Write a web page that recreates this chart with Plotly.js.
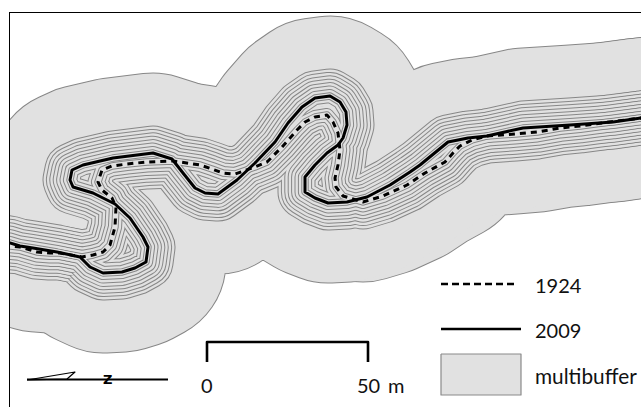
<!DOCTYPE html>
<html><head><meta charset="utf-8">
<script src="https://cdn.plot.ly/plotly-3.0.1.min.js"></script>
<style>html,body{margin:0;padding:0;background:#fff}#c{width:641px;height:407px}</style>
</head><body><div id="c"></div>
<script>
// river centrelines, in picture units
const x2009=[-40,10,20,33,57,80,90,103,122,135,146,148,143,130,115,93,73,70,72,83,113,153,172,183,195,205,218,237,255,275,288,302,315,330,340,346,347,343,338,327,315,305,305,315,328,347,367,390,410,420,448,468,487,523,570,613,641,690];
const y2009=[238,243,246,248,252,257,267,273,272,268,262,247,237,218,204,193,187,180,170,165,158,153,159,173,188,193,194,180,163,142,123,107,98,96,102,112,125,138,145,153,165,177,192,198,203,202,197,185,172,165,142,138,136,128,125,122,118,113];
const x1924=[-40,10,20,37,50,60,82,93,103,110,115,116,112,102,98,102,112,127,147,173,200,212,223,235,255,267,282,297,305,315,327,333,338,340,338,335,336,343,363,383,407,425,445,453,460,472,487,515,537,560,580,617,641,690];
const y1924=[243,246,247,252,253,253,257,255,252,245,227,207,198,190,182,170,166,164,162,161,165,169,173,174,167,162,147,130,122,117,115,122,133,150,165,178,187,196,202,196,185,173,162,153,146,140,136,134,132,128,126,121,118,113];
const bufferRadii=[80,27,23.6,20.2,16.8,13.4,10,6.6,3.2];
const legendLabels=['1924','2009','multibuffer'];
const legendLineX=[441,518];
const scaleX=[207,207,368,368], scaleY=[362,342,342,362];
const northX=[27,168], northY=[379.5,379.5];
const northArrowX=[27,75,67,27], northArrowY=[380,372,379,380];
const boxX=[441,521,521,441,441], boxY=[354,354,395,395,354];

const gray='#878787', fill='#e1e1e1';
const traces=[];
function line(x,y,color,width,dash){
  traces.push({x,y,mode:'lines',hoverinfo:'skip',showlegend:false,
    line:{color,width,dash:dash||'solid',simplify:false}});
}
bufferRadii.forEach(r=>{
  line(x1924,y1924,gray,2*r+1);
  line(x2009,y2009,gray,2*r+1);
  line(x1924,y1924,fill,2*r-1);
  line(x2009,y2009,fill,2*r-1);
});
line(x1924,y1924,'#000',3,'6px,5px');
line(x2009,y2009,'#000',3);
// legend keys
traces.push({x:boxX,y:boxY,mode:'lines',fill:'toself',fillcolor:fill,hoverinfo:'skip',showlegend:false,line:{color:'#8a8a8a',width:1.2}});
line(legendLineX,[284,284],'#000',2.6,'7px,4px');
line([441,521],[329,329],'#000',2.6);
// scale bar and north arrow
line(scaleX,scaleY,'#000',2.6);
line(northX,northY,'#000',2);
line(northArrowX,northArrowY,'#000',1.2);

const font=(s)=>({family:'Lato, "Open Sans", sans-serif',size:s,color:'#111'});
const ann=(x,y,text,s,anchor)=>({x,y,text,showarrow:false,xanchor:anchor||'left',yanchor:'middle',font:font(s||20)});
const layout={
  width:641,height:407,margin:{l:10,r:0,t:13,b:0},paper_bgcolor:'#fff',plot_bgcolor:'#fff',
  xaxis:{range:[10,641],showgrid:false,zeroline:false,showticklabels:false,ticks:'',showline:true,linecolor:'#000',linewidth:1.5,side:'top',fixedrange:true},
  yaxis:{range:[407,13],showgrid:false,zeroline:false,showticklabels:false,ticks:'',showline:true,linecolor:'#000',linewidth:1.5,fixedrange:true},
  annotations:[
    ann(533,285,legendLabels[0]),ann(533,330,legendLabels[1]),ann(533,375,legendLabels[2],20.8),
    ann(207,385,'0',20,'center'),ann(368,385,'50',20,'center'),ann(386,385,'m',20),
    {x:107,y:379.5,text:'<b>Z</b>',showarrow:false,xanchor:'center',yanchor:'middle',font:{family:'DejaVu Sans',size:13,color:'#000'}}
  ]
};
Plotly.newPlot('c',traces,layout,{displayModeBar:false,staticPlot:true}).then(()=>{
  document.querySelectorAll('#c .js-line').forEach(p=>{
    p.style.strokeLinejoin='round';p.style.strokeLinecap='butt';
  });
});
</script></body></html>
